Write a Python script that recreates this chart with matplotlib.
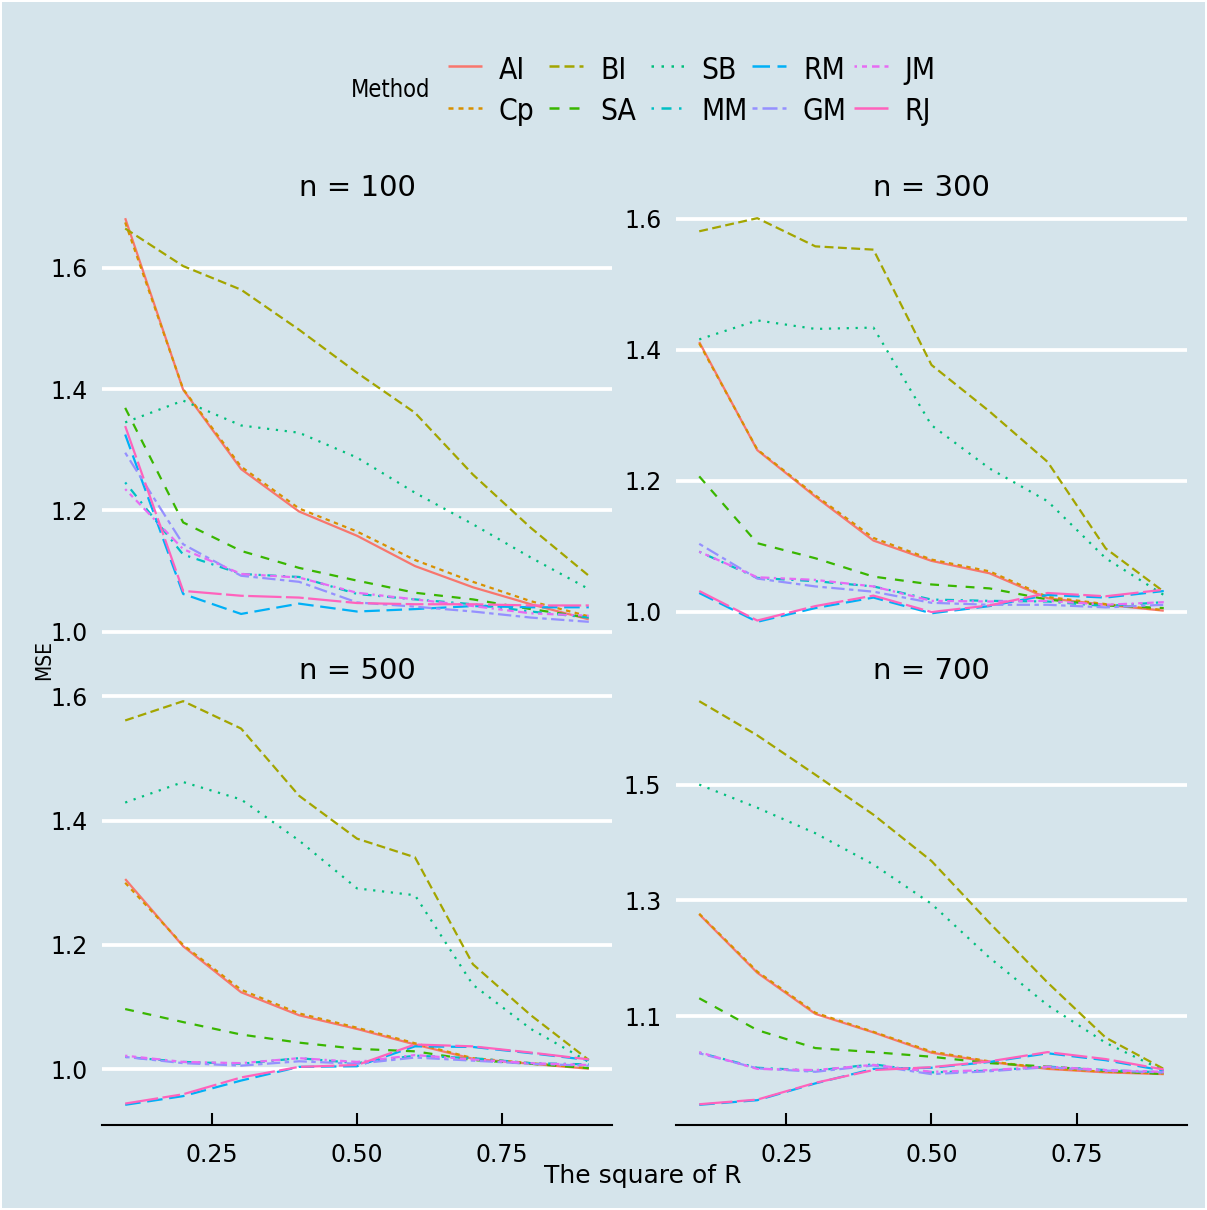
import matplotlib
matplotlib.use("Agg")
import matplotlib.pyplot as plt
from matplotlib.lines import Line2D
from matplotlib.patches import Rectangle

plt.rcParams['font.family'] = ['DejaVu Sans']

# ---------------- data ----------------
r2 = [0.1, 0.2, 0.3, 0.4, 0.5, 0.6, 0.7, 0.8, 0.9]
methods = ["AI", "Cp", "BI", "SA", "SB", "MM", "RM", "GM", "JM", "RJ"]
colors = ["#F8766D", "#D89000", "#A3A500", "#39B600", "#00BF7D",
          "#00BFC4", "#00B0F6", "#9590FF", "#E76BF3", "#FF62BC"]
linetypes = ["solid", "22", "42", "44", "13", "1343", "73", "2262", "12223242", "F282"]

mse_n100 = {
    "AI": [1.682, 1.399, 1.268, 1.198, 1.158, 1.108, 1.073, 1.045, 1.020],
    "Cp": [1.675, 1.400, 1.272, 1.203, 1.165, 1.118, 1.082, 1.050, 1.025],
    "BI": [1.665, 1.603, 1.564, 1.498, 1.427, 1.361, 1.259, 1.171, 1.092],
    "SA": [1.369, 1.180, 1.133, 1.105, 1.084, 1.064, 1.053, 1.037, 1.023],
    "SB": [1.345, 1.381, 1.340, 1.328, 1.287, 1.229, 1.177, 1.122, 1.070],
    "MM": [1.246, 1.127, 1.095, 1.090, 1.062, 1.053, 1.045, 1.033, 1.023],
    "RM": [1.325, 1.062, 1.029, 1.046, 1.033, 1.037, 1.042, 1.040, 1.040],
    "GM": [1.295, 1.144, 1.092, 1.082, 1.048, 1.041, 1.033, 1.023, 1.016],
    "JM": [1.235, 1.136, 1.095, 1.089, 1.064, 1.053, 1.042, 1.030, 1.026],
    "RJ": [1.339, 1.067, 1.059, 1.056, 1.047, 1.045, 1.045, 1.043, 1.043],
}
mse_n300 = {
    "AI": [1.412, 1.247, 1.176, 1.109, 1.078, 1.059, 1.021, 1.011, 1.002],
    "Cp": [1.410, 1.248, 1.178, 1.113, 1.080, 1.062, 1.023, 1.012, 1.003],
    "BI": [1.581, 1.601, 1.558, 1.553, 1.377, 1.306, 1.229, 1.097, 1.031],
    "SA": [1.207, 1.105, 1.082, 1.054, 1.042, 1.036, 1.019, 1.010, 1.006],
    "SB": [1.416, 1.445, 1.432, 1.434, 1.285, 1.219, 1.169, 1.082, 1.026],
    "MM": [1.092, 1.052, 1.047, 1.039, 1.019, 1.017, 1.016, 1.009, 1.015],
    "RM": [1.029, 0.985, 1.006, 1.022, 0.998, 1.009, 1.026, 1.022, 1.032],
    "GM": [1.104, 1.051, 1.039, 1.031, 1.014, 1.011, 1.011, 1.007, 1.011],
    "JM": [1.092, 1.053, 1.049, 1.039, 1.017, 1.016, 1.017, 1.011, 1.015],
    "RJ": [1.032, 0.987, 1.009, 1.025, 1.000, 1.010, 1.029, 1.024, 1.034],
}
mse_n500 = {
    "AI": [1.306, 1.198, 1.124, 1.087, 1.065, 1.040, 1.017, 1.009, 1.001],
    "Cp": [1.300, 1.200, 1.128, 1.090, 1.067, 1.042, 1.018, 1.010, 1.002],
    "BI": [1.561, 1.592, 1.548, 1.440, 1.371, 1.341, 1.169, 1.087, 1.015],
    "SA": [1.097, 1.076, 1.056, 1.043, 1.033, 1.029, 1.015, 1.009, 1.002],
    "SB": [1.429, 1.462, 1.434, 1.368, 1.291, 1.280, 1.136, 1.065, 1.012],
    "MM": [1.020, 1.012, 1.009, 1.018, 1.010, 1.022, 1.018, 1.010, 1.008],
    "RM": [0.943, 0.957, 0.982, 1.004, 1.005, 1.037, 1.036, 1.026, 1.015],
    "GM": [1.020, 1.010, 1.006, 1.013, 1.009, 1.019, 1.014, 1.009, 1.006],
    "JM": [1.022, 1.012, 1.010, 1.018, 1.012, 1.023, 1.016, 1.010, 1.007],
    "RJ": [0.945, 0.960, 0.987, 1.004, 1.007, 1.040, 1.037, 1.027, 1.016],
}
mse_n700 = {
    "AI": [1.276, 1.175, 1.104, 1.072, 1.037, 1.021, 1.009, 1.003, 1.000],
    "Cp": [1.277, 1.177, 1.106, 1.073, 1.039, 1.022, 1.010, 1.004, 1.001],
    "BI": [1.644, 1.585, 1.517, 1.448, 1.368, 1.261, 1.158, 1.063, 1.009],
    "SA": [1.131, 1.076, 1.045, 1.038, 1.030, 1.019, 1.013, 1.006, 1.000],
    "SB": [1.500, 1.460, 1.416, 1.362, 1.294, 1.201, 1.119, 1.054, 1.006],
    "MM": [1.037, 1.011, 1.006, 1.017, 1.003, 1.006, 1.013, 1.007, 1.003],
    "RM": [0.947, 0.955, 0.984, 1.009, 1.011, 1.021, 1.036, 1.024, 1.006],
    "GM": [1.036, 1.010, 1.004, 1.015, 1.000, 1.005, 1.012, 1.006, 1.003],
    "JM": [1.038, 1.009, 1.007, 1.016, 1.004, 1.007, 1.013, 1.007, 1.004],
    "RJ": [0.948, 0.956, 0.985, 1.007, 1.012, 1.022, 1.038, 1.026, 1.008],
}
panel_titles = ["n = 100", "n = 300", "n = 500", "n = 700"]
panel_data = [mse_n100, mse_n300, mse_n500, mse_n700]
yticks_n100 = [1.0, 1.2, 1.4, 1.6]
yticks_n300 = [1.0, 1.2, 1.4, 1.6]
yticks_n500 = [1.0, 1.2, 1.4, 1.6]
yticks_n700 = [1.1, 1.3, 1.5]
panel_yticks = [yticks_n100, yticks_n300, yticks_n500, yticks_n700]
xticks = [0.25, 0.50, 0.75]
xtick_labels = ["0.25", "0.50", "0.75"]

# ---------------- style ----------------
W, H = 1207, 1210
BG = "#d5e4eb"
LW = 1.6


def lt_to_ls(code):
    if code == "solid":
        return "-"
    return (0, tuple(int(c, 16) for c in code))


fig = plt.figure(figsize=(W / 100, H / 100), dpi=100)
fig.patch.set_facecolor("white")
fig.add_artist(Rectangle((2 / W, 2 / H), 1 - 4 / W, 1 - 4 / H, transform=fig.transFigure,
                         facecolor=BG, edgecolor="none", zorder=-10))


def rect(l, t, r, b):
    return [l / W, 1 - b / H, (r - l) / W, (b - t) / H]


boxes = [(102, 198, 612, 642), (676, 198, 1187, 642),
         (102, 681, 612, 1125), (676, 681, 1187, 1125)]

for k, (box, title, data, yt) in enumerate(zip(boxes, panel_titles, panel_data, panel_yticks)):
    ax = fig.add_axes(rect(*box))
    ax.set_facecolor(BG)
    for m, c, lt in zip(methods, colors, linetypes):
        ax.plot(r2, data[m], color=c, linestyle=lt_to_ls(lt), lw=LW,
                solid_capstyle="butt", dash_capstyle="butt", zorder=3)
    allv = [v for m in methods for v in data[m]]
    lo, hi = min(allv), max(allv)
    pad = 0.05 * (hi - lo)
    ax.set_ylim(lo - pad, hi + pad)
    xpad = 0.05 * (max(r2) - min(r2))
    ax.set_xlim(min(r2) - xpad, max(r2) + xpad)
    ax.set_yticks(yt)
    ax.set_yticklabels([f"{v:.1f}" for v in yt])
    ax.yaxis.grid(True, color="white", lw=2.7, zorder=1)
    ax.xaxis.grid(False)
    ax.set_axisbelow(True)
    for s in ["top", "left", "right"]:
        ax.spines[s].set_visible(False)
    ax.tick_params(axis="y", length=0, pad=10.5, labelsize=17, labelcolor="black")
    if k >= 2:
        ax.spines["bottom"].set_color("black")
        ax.spines["bottom"].set_linewidth(1.5)
        ax.set_xticks(xticks)
        ax.set_xticklabels(xtick_labels)
        ax.tick_params(axis="x", direction="in", length=8.6, width=1.5, color="black",
                       pad=13, labelsize=17, labelcolor="black")
    else:
        ax.spines["bottom"].set_visible(False)
        ax.set_xticks(xticks)
        ax.tick_params(axis="x", length=0, labelbottom=False)
    ax.text(0.5, 1 + 2 / (box[3] - box[1]), title, transform=ax.transAxes,
            ha="center", va="baseline", fontsize=21, color="black")

# axis titles
fig.text(643 / W, 1 - 1183 / H, "The square of R", ha="center", va="baseline",
         fontsize=18, color="black")
fig.text(50 / W, 1 - 660 / H, "MSE", ha="center", va="baseline", rotation=90,
         rotation_mode="anchor", fontsize=15, color="black", fontstretch="condensed")

# legend
fig.text(351 / W, 1 - 96.7 / H, "Method", ha="left", va="baseline", fontsize=17,
         color="black", fontstretch="condensed")
key_y = [66, 107.5]
base_y = [79, 119.5]
for i, (m, c, lt) in enumerate(zip(methods, colors, linetypes)):
    col, row = i // 2, i % 2
    x0 = 447.5 + 101.5 * col
    fig.add_artist(Line2D([x0 / W, (x0 + 34) / W], [1 - key_y[row] / H] * 2,
                          transform=fig.transFigure, color=c, linestyle=lt_to_ls(lt),
                          lw=1.8, solid_capstyle="butt", dash_capstyle="butt"))
    fig.text((x0 + 51) / W, 1 - base_y[row] / H, m, ha="left", va="baseline",
             fontsize=21.5, color="black", fontstretch="condensed")

fig.savefig("out.png", dpi=100, facecolor=fig.get_facecolor())
